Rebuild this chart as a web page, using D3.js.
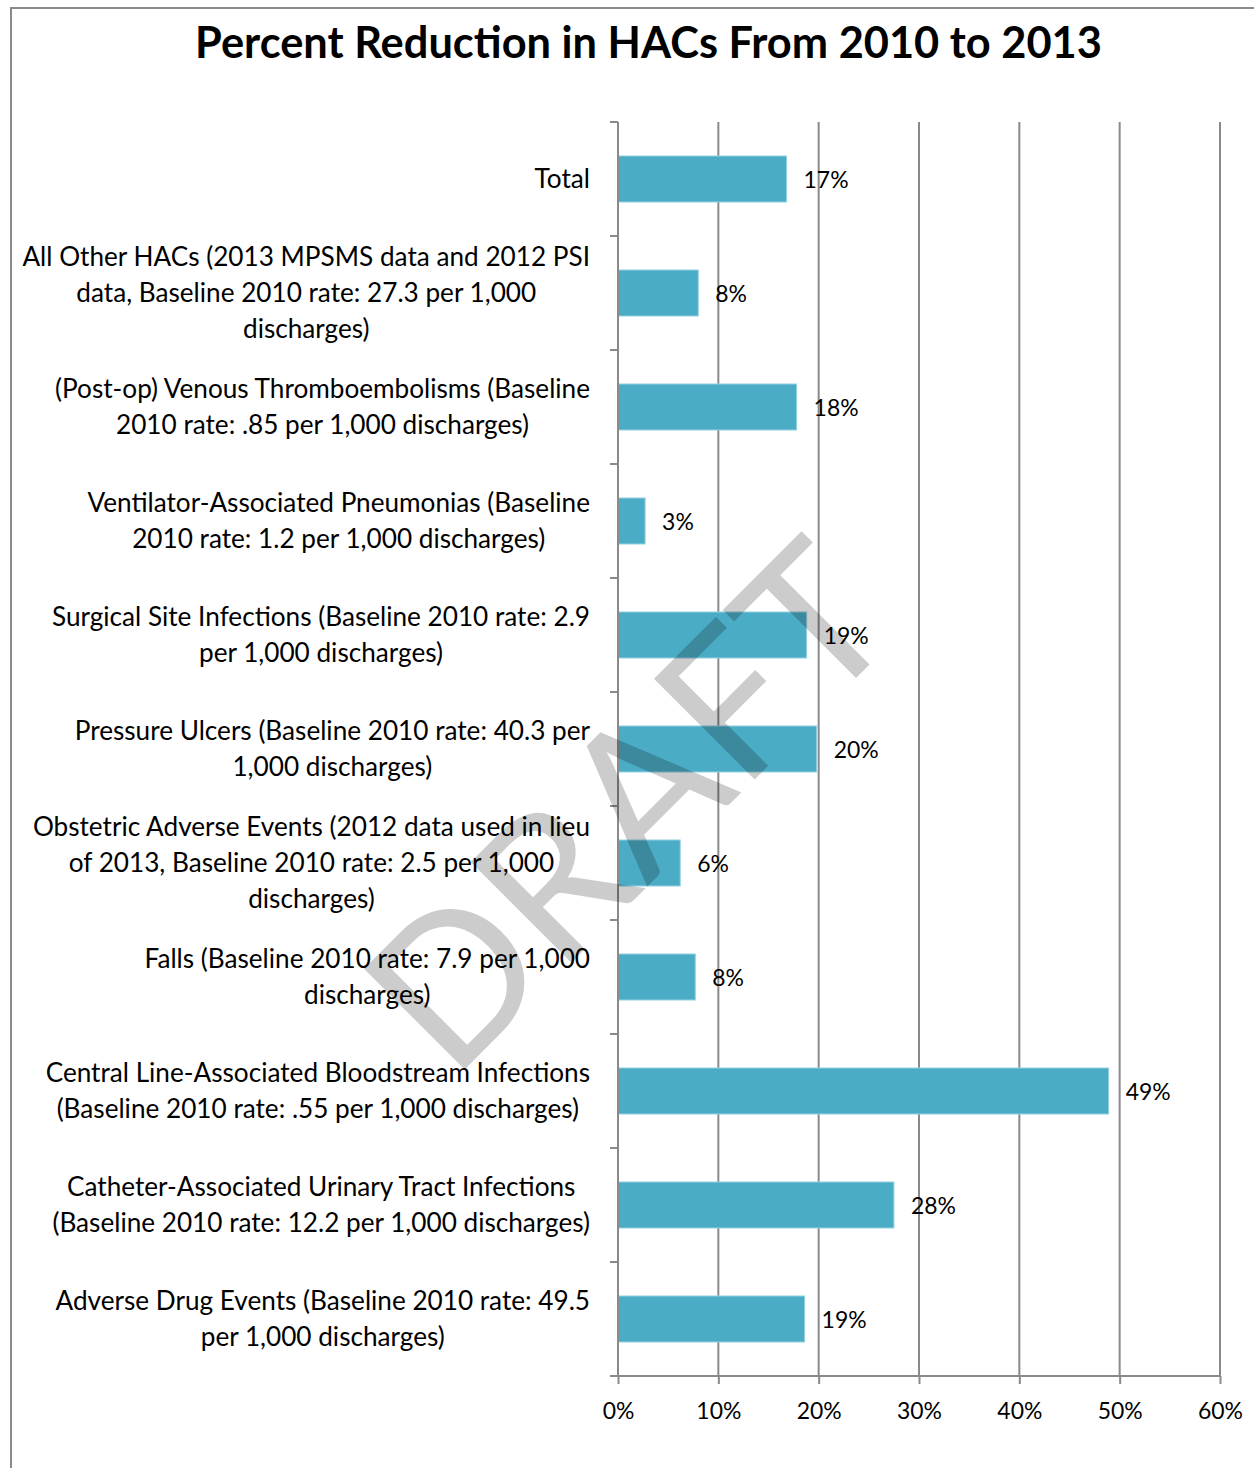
<!DOCTYPE html>
<html>
<head>
<meta charset="utf-8">
<script src="https://cdn.jsdelivr.net/npm/d3@7"></script>
<style>
  body { margin: 0; background: #ffffff; }
  svg { display: block; }
</style>
</head>
<body>
<svg id="chart" width="1254" height="1468"></svg>
<script>
// ---------------- DATA ----------------
const chartTitle = "Percent Reduction in HACs From 2010 to 2013";
const watermarkText = "DRAFT";

const categories = [
  "Total",
  "All Other HACs (2013 MPSMS data and 2012 PSI data, Baseline 2010 rate: 27.3 per 1,000 discharges)",
  "(Post-op) Venous Thromboembolisms (Baseline 2010 rate: .85 per 1,000 discharges)",
  "Ventilator-Associated Pneumonias (Baseline 2010 rate: 1.2 per 1,000 discharges)",
  "Surgical Site Infections (Baseline 2010 rate: 2.9 per 1,000 discharges)",
  "Pressure Ulcers (Baseline 2010 rate: 40.3 per 1,000 discharges)",
  "Obstetric Adverse Events (2012 data used in lieu of 2013, Baseline 2010 rate: 2.5 per 1,000 discharges)",
  "Falls (Baseline 2010 rate: 7.9 per 1,000 discharges)",
  "Central Line-Associated Bloodstream Infections (Baseline 2010 rate: .55 per 1,000 discharges)",
  "Catheter-Associated Urinary Tract Infections (Baseline 2010 rate: 12.2 per 1,000 discharges)",
  "Adverse Drug Events (Baseline 2010 rate: 49.5 per 1,000 discharges)"
];

const categoryLines = [
  ["Total"],
  ["All Other HACs (2013 MPSMS data and 2012 PSI", "data, Baseline 2010 rate: 27.3 per 1,000", "discharges)"],
  ["(Post-op) Venous Thromboembolisms (Baseline", "2010 rate: .85 per 1,000 discharges)"],
  ["Ventilator-Associated Pneumonias (Baseline", "2010 rate: 1.2 per 1,000 discharges)"],
  ["Surgical Site Infections (Baseline 2010 rate: 2.9", "per 1,000 discharges)"],
  ["Pressure Ulcers (Baseline 2010 rate: 40.3 per", "1,000 discharges)"],
  ["Obstetric Adverse Events (2012 data used in lieu", "of 2013, Baseline 2010 rate: 2.5 per 1,000", "discharges)"],
  ["Falls (Baseline 2010 rate: 7.9 per 1,000", "discharges)"],
  ["Central Line-Associated Bloodstream Infections", "(Baseline 2010 rate: .55 per 1,000 discharges)"],
  ["Catheter-Associated Urinary Tract Infections", "(Baseline 2010 rate: 12.2 per 1,000 discharges)"],
  ["Adverse Drug Events (Baseline 2010 rate: 49.5", "per 1,000 discharges)"]
];

const reductionValues = [0.168, 0.080, 0.178, 0.027, 0.188, 0.198, 0.062, 0.077, 0.489, 0.275, 0.186];
const valueLabels = ["17%", "8%", "18%", "3%", "19%", "20%", "6%", "8%", "49%", "28%", "19%"];
const xTickValues = [0, 0.1, 0.2, 0.3, 0.4, 0.5, 0.6];
const xTickLabels = ["0%", "10%", "20%", "30%", "40%", "50%", "60%"];

// ---------------- LAYOUT ----------------
const FONT = "Lato, 'Open Sans', 'Noto Sans', sans-serif";
const plot = { left: 618, right: 1220, top: 122, bottom: 1376 };
const gray = "#8a8a8a";
const barFill = "#4bacc6";
const barStroke = "#93d0e0";

const svg = d3.select("#chart");

function measure(text, size, weight) {
  const t = svg.append("text")
    .attr("font-family", FONT).attr("font-size", size).attr("font-weight", weight)
    .text(text);
  const w = t.node().getComputedTextLength();
  t.remove();
  return w;
}
function fitSize(text, weight, targetWidth) {
  return 100 * targetWidth / measure(text, 100, weight);
}

const x = d3.scaleLinear().domain([0, 0.6]).range([plot.left, plot.right]);
const y = d3.scaleBand().domain(categories)
  .range([plot.top, plot.bottom])
  .paddingInner(0.5965).paddingOuter(0.5965 / 2);
const step = y.step();

// frame
svg.append("rect")
  .attr("x", 11).attr("y", 8).attr("width", 1400).attr("height", 1600)
  .attr("fill", "none").attr("stroke", gray).attr("stroke-width", 2);

// title
const titleSize = fitSize(chartTitle, "bold", 907);
svg.append("text")
  .attr("x", 648.5).attr("y", 58)
  .attr("text-anchor", "middle")
  .attr("font-family", FONT).attr("font-weight", "bold").attr("font-size", titleSize)
  .attr("fill", "#000")
  .text(chartTitle);

// gridlines
svg.append("g").selectAll("line")
  .data(xTickValues.filter(d => d > 0))
  .join("line")
  .attr("x1", d => x(d)).attr("x2", d => x(d))
  .attr("y1", plot.top).attr("y2", plot.bottom)
  .attr("stroke", gray).attr("stroke-width", 2);

// bars
svg.append("g").selectAll("rect")
  .data(categories)
  .join("rect")
  .attr("x", x(0))
  .attr("y", d => y(d))
  .attr("width", (d, i) => x(reductionValues[i]) - x(0))
  .attr("height", y.bandwidth())
  .attr("fill", barFill)
  .attr("stroke", barStroke).attr("stroke-width", 1);

// y axis line and category ticks
svg.append("line")
  .attr("x1", plot.left).attr("x2", plot.left)
  .attr("y1", plot.top).attr("y2", plot.bottom)
  .attr("stroke", gray).attr("stroke-width", 2);
svg.append("g").selectAll("line")
  .data(d3.range(categories.length + 1))
  .join("line")
  .attr("x1", plot.left - 8).attr("x2", plot.left)
  .attr("y1", i => plot.top + i * step).attr("y2", i => plot.top + i * step)
  .attr("stroke", gray).attr("stroke-width", 2);

// x axis
const xAxis = d3.axisBottom(x)
  .tickValues(xTickValues)
  .tickFormat((d, i) => xTickLabels[i])
  .tickSize(8).tickSizeOuter(0).tickPadding(18);
const tickSize = fitSize("60%", "normal", 45);
const gx = svg.append("g")
  .attr("transform", `translate(0,${plot.bottom})`)
  .call(xAxis);
gx.select(".domain").remove();
gx.selectAll(".tick line").attr("stroke", gray).attr("stroke-width", 2);
gx.selectAll(".tick text")
  .attr("font-family", FONT).attr("font-size", tickSize).attr("fill", "#000")
  .attr("dy", null).attr("y", 43);
svg.append("line")
  .attr("x1", plot.left - 8).attr("x2", plot.right)
  .attr("y1", plot.bottom).attr("y2", plot.bottom)
  .attr("stroke", gray).attr("stroke-width", 2);

// value labels
svg.append("g").selectAll("text")
  .data(categories)
  .join("text")
  .attr("x", (d, i) => x(reductionValues[i]) + 17)
  .attr("y", d => y(d) + y.bandwidth() / 2 + 9)
  .attr("font-family", FONT).attr("font-size", tickSize).attr("fill", "#000")
  .text((d, i) => valueLabels[i]);

// category labels (block right-aligned, lines centered in block)
const catSize = fitSize(categoryLines[1][0], "normal", 568);
const lineGap = 36;
const labelRight = 590;
categories.forEach((cat, i) => {
  const lines = categoryLines[i];
  const widths = lines.map(l => measure(l, catSize, "normal"));
  const blockW = d3.max(widths);
  const cx = labelRight - blockW / 2;
  const cy = y(cat) + y.bandwidth() / 2;
  const g = svg.append("g");
  lines.forEach((l, j) => {
    g.append("text")
      .attr("x", cx)
      .attr("y", cy + (j - (lines.length - 1) / 2) * lineGap + 9)
      .attr("text-anchor", "middle")
      .attr("font-family", FONT).attr("font-size", catSize).attr("fill", "#000")
      .text(l);
  });
});

// watermark
const wmSize = fitSize(watermarkText, "normal", 640);
svg.append("text")
  .attr("transform", "translate(678,856) rotate(-45)")
  .attr("text-anchor", "middle")
  .attr("font-family", FONT).attr("font-size", wmSize)
  .attr("fill", "#000").attr("fill-opacity", 0.2)
  .text(watermarkText);
</script>
</body>
</html>
